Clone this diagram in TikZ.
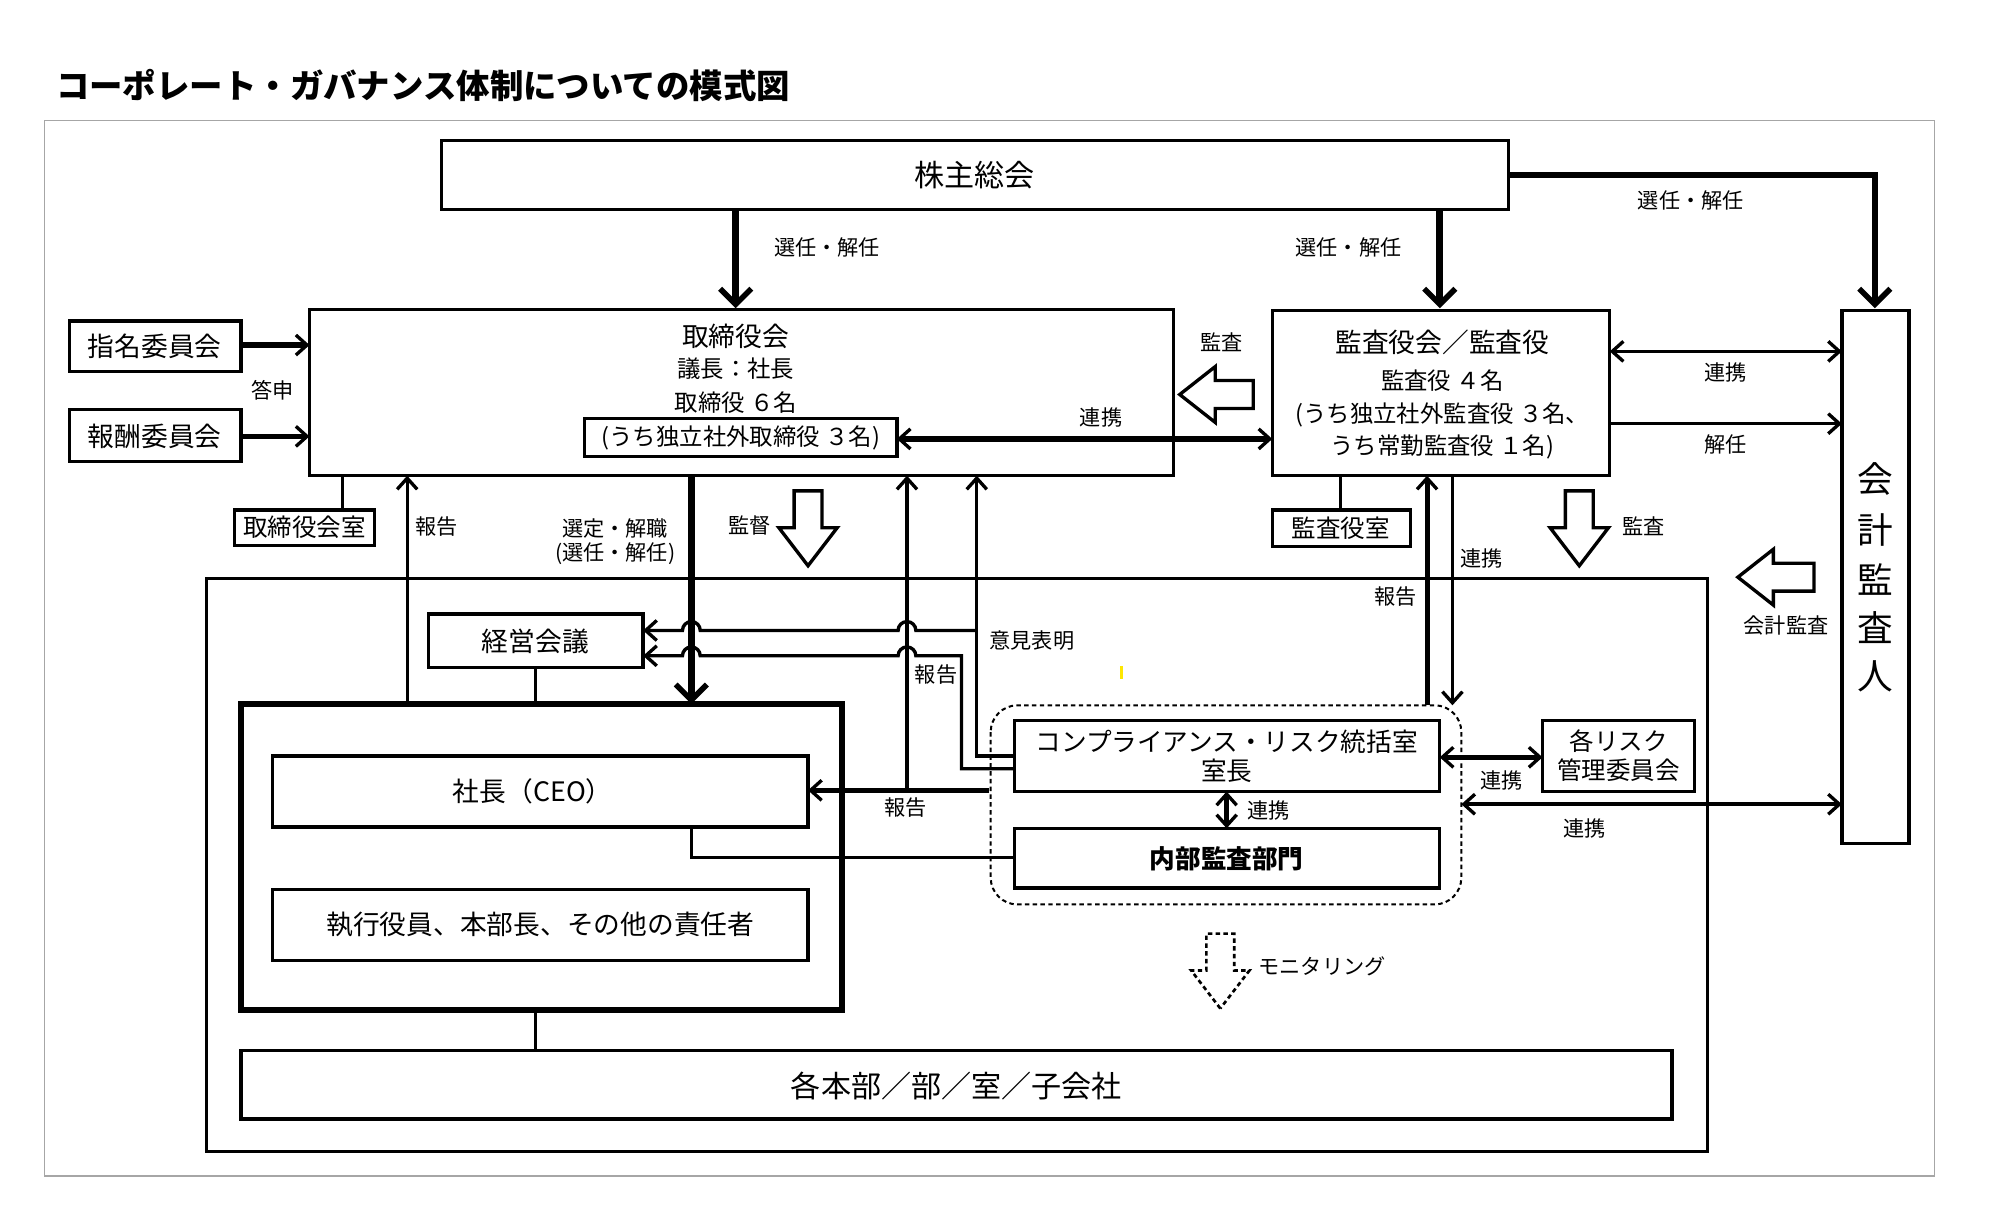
\documentclass[tikz,border=0pt]{standalone}
\usepackage{fontspec}
\setmainfont{Noto Sans CJK JP}
\usetikzlibrary{arrows.meta}
\begin{document}
\begin{tikzpicture}[x=0.02cm,y=-0.02cm,
  bx/.style={draw,line width=1.5pt,inner sep=0pt},
  lb/.style={font=\fontsize{9.5}{11}\selectfont,inner sep=1pt},
  bt/.style={font=\fontsize{12}{14}\selectfont},
  ln/.style={line width=1.5pt},
  ar/.style={line width=1.5pt,-{Straight Barb[length=5pt,width=9pt,line width=1.5pt]}},
  dar/.style={line width=1.5pt,{Straight Barb[length=5pt,width=9pt,line width=1.5pt]}-{Straight Barb[length=5pt,width=9pt,line width=1.5pt]}},
  tar/.style={line width=3pt,-{Straight Barb[length=7pt,width=14pt,line width=2.5pt]}},
  hol/.style={draw,line width=1.5pt,fill=white}]
\useasboundingbox (0,0) rectangle (1568,951);
\node[anchor=west,font=\bfseries\fontsize{15}{18}\selectfont] (title) at (38,67) {コーポレート・ガバナンス体制についての模式図};
\draw[gray!70,line width=0.8pt] (35,95) rectangle (1525,927);
% top
\draw[bx] (348,111) rectangle (1189,165);
\node[font=\fontsize{13.5}{16}\selectfont] (agm) at (768,138) {株主総会};
\draw[tar] (580,165) -- (580,243);
\node[lb] at (652,195) {選任・解任};
\draw[tar] (1135,165) -- (1135,243);
\node[lb] at (1063,195) {選任・解任};
\draw[tar] (1189,138) -- (1478,138) -- (1478,243);
\node[lb] at (1333,158) {選任・解任};
% board
\draw[bx] (244,244) rectangle (925,375);
\node[bt] at (580,265) {取締役会};
\node[lb,font=\fontsize{10.5}{12}\selectfont] at (580,291) {議長：社長};
\node[lb,font=\fontsize{10.5}{12}\selectfont] at (580,317) {取締役 ６名};
\draw[bx] (461,330) rectangle (707,360);
\node[lb,font=\fontsize{10.5}{12}\selectfont] at (584,345) {(うち独立社外取締役 ３名)};
\draw[bx] (55,253) rectangle (190,293);
\node[bt] at (122,273) {指名委員会};
\draw[bx] (55,323) rectangle (190,364);
\node[bt] at (122,344) {報酬委員会};
\draw[ar,line width=2.5pt] (190,272) -- (244,272);
\draw[ar,line width=2.5pt] (190,344) -- (244,344);
\node[lb] at (215,308) {答申};
\draw[bx] (185,402) rectangle (295,430);
\node[font=\fontsize{11}{13}\selectfont] at (240,416) {取締役会室};
\draw[ln] (270,375) -- (270,402);
% auditors
\draw[bx] (1003,245) rectangle (1269,375);
\node[bt] at (1137,270) {監査役会／監査役};
\node[lb,font=\fontsize{10.5}{12}\selectfont] at (1137,300) {監査役 ４名};
\node[lb,font=\fontsize{10.5}{12}\selectfont] at (1137,327) {(うち独立社外監査役 ３名、};
\node[lb,font=\fontsize{10.5}{12}\selectfont] at (1137,352) {うち常勤監査役 １名)};
\draw[bx] (1003,402) rectangle (1112,431);
\node[font=\fontsize{11}{13}\selectfont] at (1057,416) {監査役室};
\draw[ln] (1057,375) -- (1057,402);
\node[lb] at (963,270) {監査};
\draw[hol] (930,311) -- (958,289) -- (958,300) -- (988,300) -- (988,322) -- (958,322) -- (958,333) -- cycle;
\draw[dar,line width=2.5pt] (707,346) -- (1003,346);
\node[lb] at (868,329) {連携};
% accounting auditor
\draw[bx] (1452,245) rectangle (1505,665);
\foreach \c/\yy in {会/378,計/418,監/457,査/495,人/533}
  \node[font=\fontsize{16}{18}\selectfont] at (1478,\yy) {\c};
\draw[dar] (1269,277) -- (1452,277);
\node[lb] at (1360,294) {連携};
\draw[ar] (1269,334) -- (1452,334);
\node[lb] at (1360,350) {解任};
\draw[hol] (1245,446) -- (1222,416) -- (1234,416) -- (1234,387) -- (1256,387) -- (1256,416) -- (1268,416) -- cycle;
\node[lb] at (1296,415) {監査};
\draw[hol] (1370,455) -- (1398,433) -- (1398,444) -- (1430,444) -- (1430,466) -- (1398,466) -- (1398,477) -- cycle;
\node[lb] at (1408,493) {会計監査};
% inner frame
\draw[ln] (163,456) rectangle (1346,908);
\draw[bx] (338,484) rectangle (507,526);
\node[bt] at (422,506) {経営会議};
\draw[draw,line width=2.8pt] (190,555) rectangle (664,796);
\draw[bx] (215,596) rectangle (637,652);
\node[bt] at (420,624) {社長（CEO）};
\draw[bx] (215,701) rectangle (637,757);
\node[bt] at (426,729) {執行役員、本部長、その他の責任者};
\draw[bx] (190,828) rectangle (1318,882);
\node[font=\fontsize{13.5}{16}\selectfont] at (754,856) {各本部／部／室／子会社};
\draw[ln] (422,796) -- (422,828);
\draw[ln] (422,526) -- (422,555);
\draw[ar] (321,555) -- (321,375);
\node[lb] at (344,415) {報告};
% 経営会議 feedback lines with hops
\draw[ar] (770,497) -- (722,497) arc[start angle=0,end angle=-180,radius=7] -- (552,497) arc[start angle=0,end angle=-180,radius=7] -- (507,497);
\draw[ar] (800,606) -- (758,606) -- (758,517) -- (722,517) arc[start angle=0,end angle=-180,radius=7] -- (552,517) arc[start angle=0,end angle=-180,radius=7] -- (507,517);
\draw[ar] (800,596) -- (770,596) -- (770,375);
\node[lb,anchor=west] at (778,505) {意見表明};
\draw[tar] (545,375) -- (545,555);
\node[lb,align=center] at (485,427) {選定・解職\\(選任・解任)};
\draw[hol] (637,446) -- (614,416) -- (626,416) -- (626,387) -- (648,387) -- (648,416) -- (660,416) -- cycle;
\node[lb] at (591,414) {監督};
\draw[ar] (715,623) -- (715,375);
\node[lb] at (738,532) {報告};
\draw[ar,line width=2.2pt] (780,623) -- (637,623);
\node[lb] at (714,637) {報告};
\draw[ln] (545,652) -- (545,676) -- (800,676);
% compliance
\draw[dashed,dash pattern=on 2pt off 1.5pt,line width=0.9pt,rounded corners=12pt] (781,556) rectangle (1152,713);
\draw[bx] (800,568) rectangle (1135,624);
\node[bt,align=center,font=\fontsize{11.5}{13}\selectfont] at (967,596) {コンプライアンス・リスク統括室\\室長};
\draw[bx] (800,653) rectangle (1135,700);
\node[bt,font=\bfseries\fontsize{11.5}{13}\selectfont] at (967,677) {内部監査部門};
\draw[dar,line width=2pt] (967,624) -- (967,653);
\node[lb] at (1000,639) {連携};
\draw[bx] (1216,568) rectangle (1336,624);
\node[align=center,font=\fontsize{11}{13}\selectfont] at (1276,596) {各リスク\\管理委員会};
\draw[dar,line width=2pt] (1135,597) -- (1216,597);
\node[lb] at (1184,615) {連携};
\draw[dar,line width=2pt] (1152,634) -- (1452,634);
\node[lb] at (1249,653) {連携};
\draw[ar,line width=2.2pt] (1125,556) -- (1125,375);
\node[lb] at (1100,470) {報告};
\draw[ar] (1145,375) -- (1145,556);
\node[lb] at (1168,440) {連携};
\draw[yellow!90!orange,line width=1.2pt] (884,525) -- (884,535);
% monitoring
\draw[draw,dashed,dash pattern=on 2pt off 1.5pt,line width=1.2pt] (962,795) -- (939,765) -- (951,765) -- (951,736) -- (973,736) -- (973,765) -- (985,765) -- cycle;
\node[lb,anchor=west] at (990,762) {モニタリング};
\end{tikzpicture}
\end{document}
